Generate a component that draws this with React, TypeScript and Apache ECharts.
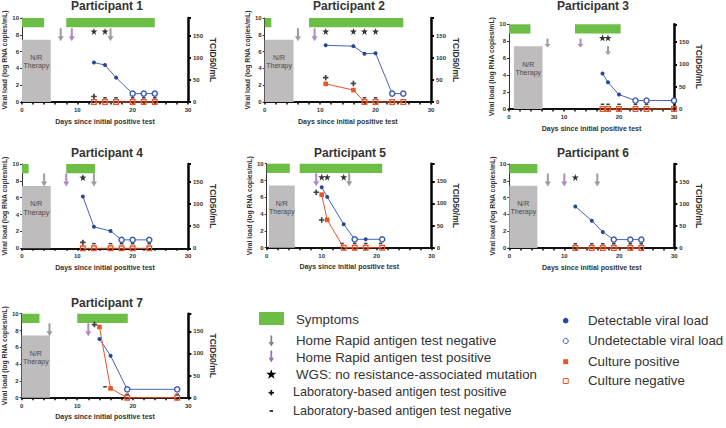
import React, { useEffect, useRef } from "react";
import * as echarts from "echarts";

const FONT = "'Liberation Sans', Arial, Helvetica, sans-serif";
const GREEN = "#6dbe46";
const THERAPY_GREY = "#bebcbc";
const ARROW_GREY = "#858585";
const ARROW_PURPLE = "#9d6db7";
const BLUE_LINE = "#4466bb";
const BLUE_DOT = "#2c4696";
const BLUE_RING = "#3a5aae";
const RED = "#e9542b";
const TEXT = "#333333";

// ---------- data ----------
// Participant 1
const p1Days = [13, 15, 17, 20, 22, 24];
const p1Viral = [4.7, 4.4, 2.9, 1, 1, 1];
const p1Detect = [1, 1, 1, 0, 0, 0];
const p1Culture = [0, 0, 0, 0, 0, 0];
const p1CulturePos = [0, 0, 0, 0, 0, 0];
const p1Symptoms = [[0, 4], [8, 24]];
const p1Therapy = [0, 5.2];
const p1RapidNeg = [[7, 8.0], [16, 8.0]];
const p1RapidPos = [[9, 8.0]];
const p1Wgs = [13, 15];
const p1LabPos = [[13, 0.65]];
const p1LabNeg = [[15, 0.5], [17, 0.5], [20, 0.5], [22, 0.5], [24, 0.5]];

// Participant 2
const p2Days = [11, 16, 18, 20, 23, 25];
const p2Viral = [6.75, 6.65, 5.75, 5.8, 1, 1];
const p2Detect = [1, 1, 1, 1, 0, 0];
const p2Culture = [41, 27, 0, 0, 0, 0];
const p2CulturePos = [1, 1, 0, 0, 0, 0];
const p2Symptoms = [[0, 1.2], [8, 25]];
const p2Therapy = [0, 5.2];
const p2RapidNeg = [[6, 8.0]];
const p2RapidPos = [[9, 8.0]];
const p2Wgs = [11, 16, 18, 20];
const p2LabPos = [[11, 2.9], [16, 2.2]];
const p2LabNeg = [[18, 0.5], [20, 0.5]];

// Participant 3
const p3Days = [17, 18, 20, 23, 25, 30];
const p3Viral = [4.2, 3.15, 1.7, 1, 1, 1];
const p3Detect = [1, 1, 1, 0, 0, 0];
const p3Culture = [0, 0, 0, 0, 0, 0];
const p3CulturePos = [0, 0, 0, 0, 0, 0];
const p3Symptoms = [[0, 3.9], [12, 20.3]];
const p3Therapy = [0.9, 6.1];
const p3RapidNeg = [[7, 7.8], [18, 6.9]];
const p3RapidPos = [[13, 7.8]];
const p3Wgs = [17, 18];
const p3LabPos: number[][] = [];
const p3LabNeg = [[17, 0.55], [18, 0.55], [20, 0.55], [23, 0.55], [25, 0.55]];

// Participant 4
const p4Days = [11, 13, 16, 18, 20, 23];
const p4Viral = [6.15, 2.55, 2.05, 1, 1, 1];
const p4Detect = [1, 1, 1, 0, 0, 0];
const p4Culture = [0, 0, 0, 0, 0, 0];
const p4CulturePos = [0, 0, 0, 0, 0, 0];
const p4Symptoms = [[0, 1.2], [8, 13.2]];
const p4Therapy = [0, 5.2];
const p4RapidNeg = [[4, 8.1], [13, 8.1]];
const p4RapidPos = [[8, 8.1]];
const p4Wgs = [11];
const p4LabPos = [[11, 0.7]];
const p4LabNeg = [[13, 0.55], [16, 0.55], [18, 0.55], [20, 0.55], [23, 0.55]];

// Participant 5
const p5Days = [10, 11, 14, 16, 18, 21];
const p5Viral = [7.2, 6.05, 2.8, 1, 1, 1];
const p5Detect = [1, 1, 1, 0, 1, 0];
const p5Culture = [120, 63, 0, 0, 0, 0];
const p5CulturePos = [1, 1, 0, 0, 0, 0];
const p5Symptoms = [[0, 4.2], [6, 21]];
const p5Therapy = [0.4, 5.1];
const p5RapidNeg = [[15, 8.1]];
const p5RapidPos = [[9, 8.1]];
const p5Wgs = [10, 11, 14];
const p5LabPos = [[9, 6.6], [10, 3.3]];
const p5LabNeg = [[13.7, 0.5], [16, 0.5], [18, 0.5], [20.7, 0.5]];

// Participant 6
const p6Days = [12, 15, 17, 19, 22, 24];
const p6Viral = [4.95, 3.25, 1.9, 1, 1, 1];
const p6Detect = [1, 1, 1, 0, 0, 0];
const p6Culture = [0, 0, 0, 0, 0, 0];
const p6CulturePos = [0, 0, 0, 0, 0, 0];
const p6Symptoms = [[0, 5.1]];
const p6Therapy = [0, 5.1];
const p6RapidNeg = [[7, 8.1], [16, 8.1]];
const p6RapidPos = [[10, 8.1]];
const p6Wgs = [12];
const p6LabPos: number[][] = [];
const p6LabNeg = [[12, 0.5], [15, 0.5], [17, 0.5], [19, 0.5], [22, 0.5], [24, 0.5]];

// Participant 7
const p7Days = [14, 16, 19, 28];
const p7Viral = [7.0, 5.0, 1, 1];
const p7Detect = [1, 1, 0, 0];
const p7Culture = [160, 21, 0, 0];
const p7CulturePos = [1, 1, 0, 0];
const p7Symptoms = [[0, 3.2], [10, 19.1]];
const p7Therapy = [0, 5.1];
const p7RapidNeg = [[5, 8.1]];
const p7RapidPos = [[12, 8.1]];
const p7Wgs: number[] = [];
const p7LabPos = [[13.1, 8.7]];
const p7LabNeg = [[15, 1.3], [19, 0.4], [28, 0.4]];

const participants = [
  { name: "Participant 1", days: p1Days, viral: p1Viral, detect: p1Detect, culture: p1Culture, culturePos: p1CulturePos, symptoms: p1Symptoms, therapy: p1Therapy, rapidNeg: p1RapidNeg, rapidPos: p1RapidPos, wgs: p1Wgs, labPos: p1LabPos, labNeg: p1LabNeg },
  { name: "Participant 2", days: p2Days, viral: p2Viral, detect: p2Detect, culture: p2Culture, culturePos: p2CulturePos, symptoms: p2Symptoms, therapy: p2Therapy, rapidNeg: p2RapidNeg, rapidPos: p2RapidPos, wgs: p2Wgs, labPos: p2LabPos, labNeg: p2LabNeg },
  { name: "Participant 3", days: p3Days, viral: p3Viral, detect: p3Detect, culture: p3Culture, culturePos: p3CulturePos, symptoms: p3Symptoms, therapy: p3Therapy, rapidNeg: p3RapidNeg, rapidPos: p3RapidPos, wgs: p3Wgs, labPos: p3LabPos, labNeg: p3LabNeg },
  { name: "Participant 4", days: p4Days, viral: p4Viral, detect: p4Detect, culture: p4Culture, culturePos: p4CulturePos, symptoms: p4Symptoms, therapy: p4Therapy, rapidNeg: p4RapidNeg, rapidPos: p4RapidPos, wgs: p4Wgs, labPos: p4LabPos, labNeg: p4LabNeg },
  { name: "Participant 5", days: p5Days, viral: p5Viral, detect: p5Detect, culture: p5Culture, culturePos: p5CulturePos, symptoms: p5Symptoms, therapy: p5Therapy, rapidNeg: p5RapidNeg, rapidPos: p5RapidPos, wgs: p5Wgs, labPos: p5LabPos, labNeg: p5LabNeg },
  { name: "Participant 6", days: p6Days, viral: p6Viral, detect: p6Detect, culture: p6Culture, culturePos: p6CulturePos, symptoms: p6Symptoms, therapy: p6Therapy, rapidNeg: p6RapidNeg, rapidPos: p6RapidPos, wgs: p6Wgs, labPos: p6LabPos, labNeg: p6LabNeg },
  { name: "Participant 7", days: p7Days, viral: p7Viral, detect: p7Detect, culture: p7Culture, culturePos: p7CulturePos, symptoms: p7Symptoms, therapy: p7Therapy, rapidNeg: p7RapidNeg, rapidPos: p7RapidPos, wgs: p7Wgs, labPos: p7LabPos, labNeg: p7LabNeg },
];

const xTicks = [0, 10, 20, 30];
const rightTicks = [0, 50, 100, 150];

// ---------- layout (positions / styles) ----------
const layouts = [
  { left: 22, top: 18, width: 166, height: 84, tx: 107, ty: 6, ah: 13 },
  { left: 264.7, top: 18, width: 166.3, height: 84, tx: 349, ty: 6, ah: 13 },
  { left: 509, top: 24.3, width: 165, height: 84.7, tx: 593, ty: 6, ah: 9 },
  { left: 22, top: 164, width: 166, height: 84.3, tx: 107, ty: 152.5, ah: 13 },
  { left: 266.7, top: 163.7, width: 165, height: 84, tx: 350, ty: 152.5, ah: 13 },
  { left: 509.3, top: 164, width: 165, height: 84, tx: 593, ty: 152.5, ah: 13 },
  { left: 21.7, top: 313.7, width: 166.6, height: 84, tx: 107, ty: 302.5, ah: 13 },
];

const SYM_BOTTOM = 8.9;
const THERAPY_TOP = 7.4;
const STAR_Y = 8.4;
const THERAPY_TEXT_Y = 4.8;

const ARROW = "path://M2,0 L4,0 L4,8 L6,8 L3,13 L0,8 L2,8 Z";
const STAR = "path://M50,0 L61.76,33.82 L97.55,34.55 L69.02,56.18 L79.39,90.45 L50,70 L20.61,90.45 L30.98,56.18 L2.45,34.55 L38.24,33.82 Z";
const PLUS = "path://M3.5,0 L6.5,0 L6.5,3.5 L10,3.5 L10,6.5 L6.5,6.5 L6.5,10 L3.5,10 L3.5,6.5 L0,6.5 L0,3.5 L3.5,3.5 Z";

function starPoints(cx: number, cy: number, r: number) {
  const pts: number[][] = [];
  for (let k = 0; k < 10; k++) {
    const ang = -Math.PI / 2 + (k * Math.PI) / 5;
    const rr = k % 2 === 0 ? r : r * 0.4;
    pts.push([cx + rr * Math.cos(ang), cy + rr * Math.sin(ang)]);
  }
  return pts;
}

function arrowPoints(cx: number, y0: number, h: number, w: number) {
  const sh = w * 0.16;
  const headTop = y0 + h * 0.6;
  return [
    [cx - sh, y0], [cx + sh, y0], [cx + sh, headTop], [cx + w / 2, headTop],
    [cx, y0 + h], [cx - w / 2, headTop], [cx - sh, headTop],
  ];
}

function txt(text: string, x: number, y: number, size: number, opts: any = {}) {
  return {
    type: "text",
    x, y,
    silent: true,
    style: {
      text,
      fill: opts.fill || TEXT,
      fontSize: size,
      fontWeight: opts.weight || "normal",
      fontFamily: FONT,
      align: opts.align || "left",
      verticalAlign: "middle",
      textAlign: opts.align || "left",
      textVerticalAlign: "middle",
    },
  };
}

function renderRect(params: any, api: any) {
  const x1 = api.value(0), x2 = api.value(1), y1 = api.value(2), y2 = api.value(3), kind = api.value(4);
  const a = api.coord([x1, y2]);
  const b = api.coord([x2, y1]);
  const rect = {
    type: "rect",
    shape: { x: a[0], y: a[1], width: b[0] - a[0], height: b[1] - a[1] },
    style: { fill: kind === 0 ? GREEN : THERAPY_GREY },
  };
  if (kind === 0) return rect;
  const ty = api.coord([x1, THERAPY_TEXT_Y])[1];
  return {
    type: "group",
    children: [
      rect,
      {
        type: "text",
        x: (a[0] + b[0]) / 2,
        y: ty,
        style: {
          text: "N/R\nTherapy",
          fill: "#4a4a4a",
          fontSize: 7,
          fontFamily: FONT,
          align: "center",
          verticalAlign: "middle",
          textAlign: "center",
          textVerticalAlign: "middle",
          lineHeight: 8.5,
        },
      },
    ],
  };
}

function buildOption() {
  const grid: any[] = [];
  const xAxis: any[] = [];
  const yAxis: any[] = [];
  const series: any[] = [];
  const graphic: any[] = [];

  participants.forEach((p, i) => {
    const l = layouts[i];
    grid.push({ left: l.left, top: l.top, width: l.width, height: l.height });
    xAxis.push({
      gridIndex: i, type: "value", min: 0, max: 30, interval: 2,
      name: "Days since initial positive test", nameLocation: "middle", nameGap: 15.5,
      nameTextStyle: { fontSize: 7, fontWeight: "bold", color: TEXT, fontFamily: FONT },
      axisLine: { show: true, onZero: false, lineStyle: { color: "#111", width: 2 } },
      axisTick: { show: true, length: 2.5, lineStyle: { color: "#111", width: 1.5 } },
      axisLabel: {
        fontSize: 6, fontWeight: "bold", color: TEXT, fontFamily: FONT, margin: 5,
        formatter: (v: number) => (xTicks.indexOf(v) >= 0 ? String(v) : ""),
      },
      splitLine: { show: false },
    });
    yAxis.push({
      gridIndex: i, type: "value", min: 0, max: 10, interval: 2, position: "left",
      name: "Viral load (log RNA copies/mL)", nameLocation: "middle", nameGap: 13.5, nameRotate: 90,
      nameTextStyle: { fontSize: 6.8, fontWeight: "bold", color: TEXT, fontFamily: FONT },
      axisLine: { show: true, lineStyle: { color: "#333", width: 1 } },
      axisTick: { show: true, length: 2, lineStyle: { color: "#333", width: 1 } },
      axisLabel: { fontSize: 6, fontWeight: "bold", color: TEXT, fontFamily: FONT, margin: 3 },
      splitLine: { show: false },
    });
    yAxis.push({
      gridIndex: i, type: "value", min: 0, max: 190, interval: 50, position: "right",
      name: "TCID50/mL", nameLocation: "middle", nameGap: 20, nameRotate: -90,
      nameTextStyle: { fontSize: 8.5, fontWeight: "bold", color: TEXT, fontFamily: FONT },
      axisLine: { show: true, lineStyle: { color: "#000", width: 2.5 } },
      axisTick: { show: true, length: 3, lineStyle: { color: "#000", width: 2 } },
      axisLabel: {
        fontSize: 6, fontWeight: "bold", color: TEXT, fontFamily: FONT, margin: 5,
        formatter: (v: number) => (rightTicks.indexOf(v) >= 0 ? String(v) : ""),
      },
      splitLine: { show: false },
    });

    const xi = i, yl = 2 * i, yr = 2 * i + 1;
    series.push({
      type: "custom", xAxisIndex: xi, yAxisIndex: yl, clip: false, silent: true, z: 1,
      encode: { x: [0, 1], y: [2, 3] },
      data: [
        ...p.symptoms.map((s) => [s[0], s[1], SYM_BOTTOM, 10, 0]),
        [p.therapy[0], p.therapy[1], 0, THERAPY_TOP, 1],
      ],
      renderItem: renderRect,
    });
    series.push({
      type: "scatter", xAxisIndex: xi, yAxisIndex: yl, clip: false, silent: true, z: 3,
      symbol: ARROW, symbolSize: [6, l.ah], itemStyle: { color: ARROW_GREY },
      data: p.rapidNeg,
    });
    series.push({
      type: "scatter", xAxisIndex: xi, yAxisIndex: yl, clip: false, silent: true, z: 3,
      symbol: ARROW, symbolSize: [6, l.ah], itemStyle: { color: ARROW_PURPLE },
      data: p.rapidPos,
    });
    series.push({
      type: "scatter", xAxisIndex: xi, yAxisIndex: yl, clip: false, silent: true, z: 3,
      symbol: STAR, symbolSize: 7, itemStyle: { color: "#000" },
      data: p.wgs.map((d) => [d, STAR_Y]),
    });
    series.push({
      type: "scatter", xAxisIndex: xi, yAxisIndex: yl, clip: false, silent: true, z: 3,
      symbol: PLUS, symbolSize: 5.5, itemStyle: { color: "#111" },
      data: p.labPos,
    });
    series.push({
      type: "scatter", xAxisIndex: xi, yAxisIndex: yl, clip: false, silent: true, z: 3,
      symbol: "rect", symbolSize: [3.6, 1.6], itemStyle: { color: "#111" },
      data: p.labNeg,
    });
    series.push({
      type: "line", xAxisIndex: xi, yAxisIndex: yl, clip: false, silent: true, z: 4,
      symbol: "circle", showSymbol: true,
      lineStyle: { color: BLUE_LINE, width: 1 },
      itemStyle: { color: BLUE_DOT },
      data: p.days.map((d, j) => ({
        value: [d, p.viral[j]],
        symbolSize: p.detect[j] ? 4 : 5.2,
        itemStyle: p.detect[j]
          ? { color: BLUE_DOT }
          : { color: "#ffffff", borderColor: BLUE_RING, borderWidth: 1.4 },
      })),
    });
    series.push({
      type: "line", xAxisIndex: xi, yAxisIndex: yr, clip: false, silent: true, z: 5,
      symbol: "rect", showSymbol: true,
      lineStyle: { color: RED, width: 1 },
      itemStyle: { color: RED },
      data: p.days.map((d, j) => ({
        value: [d, p.culture[j]],
        symbolSize: 4.6,
        itemStyle: p.culturePos[j]
          ? { color: RED }
          : { color: "rgba(255,255,255,0)", borderColor: RED, borderWidth: 1.3 },
      })),
    });

    graphic.push(txt(p.name, l.tx, l.ty, 12, { weight: "bold", align: "center" }));
  });

  // ---------- legend ----------
  graphic.push({ type: "rect", silent: true, shape: { x: 259, y: 312, width: 25, height: 13 }, style: { fill: GREEN } });
  graphic.push(txt("Symptoms", 296, 319, 13.3));
  graphic.push({ type: "polygon", silent: true, shape: { points: arrowPoints(271.3, 335.5, 11, 5.5) }, style: { fill: ARROW_GREY } });
  graphic.push(txt("Home Rapid antigen test negative", 296, 340.5, 13.3));
  graphic.push({ type: "polygon", silent: true, shape: { points: arrowPoints(271.3, 350.5, 12, 5.5) }, style: { fill: ARROW_PURPLE } });
  graphic.push(txt("Home Rapid antigen test positive", 296, 357, 13.3));
  graphic.push({ type: "polygon", silent: true, shape: { points: starPoints(271.3, 374.5, 5.3) }, style: { fill: "#000" } });
  graphic.push(txt("WGS: no resistance-associated mutation", 296, 374, 13.3));
  graphic.push({ type: "rect", silent: true, shape: { x: 268.6, y: 391.9, width: 5.4, height: 1.7 }, style: { fill: "#111" } });
  graphic.push({ type: "rect", silent: true, shape: { x: 270.45, y: 390.0, width: 1.7, height: 5.4 }, style: { fill: "#111" } });
  graphic.push(txt("Laboratory-based antigen test positive", 293, 391.5, 12.6));
  graphic.push({ type: "rect", silent: true, shape: { x: 269.6, y: 410.2, width: 3.4, height: 1.6 }, style: { fill: "#111" } });
  graphic.push(txt("Laboratory-based antigen test negative", 293, 410.5, 12.6));

  graphic.push({ type: "circle", silent: true, shape: { cx: 565.7, cy: 320.7, r: 2.8 }, style: { fill: BLUE_DOT } });
  graphic.push(txt("Detectable viral load", 588, 320, 13.3));
  graphic.push({ type: "circle", silent: true, shape: { cx: 565.7, cy: 341, r: 2.6 }, style: { fill: "#fff", stroke: BLUE_RING, lineWidth: 1 } });
  graphic.push(txt("Undetectable viral load", 588, 340.5, 13.3));
  graphic.push({ type: "rect", silent: true, shape: { x: 563.2, y: 359.2, width: 5, height: 5 }, style: { fill: RED } });
  graphic.push(txt("Culture positive", 588, 361, 13.3));
  graphic.push({ type: "rect", silent: true, shape: { x: 563.2, y: 378.5, width: 5, height: 5 }, style: { fill: "#fff", stroke: RED, lineWidth: 1 } });
  graphic.push(txt("Culture negative", 588, 380.5, 13.3));

  return {
    animation: false,
    backgroundColor: "#ffffff",
    textStyle: { fontFamily: FONT },
    grid, xAxis, yAxis, series, graphic,
  };
}

export default function App() {
  const ref = useRef<HTMLDivElement>(null);
  useEffect(() => {
    const chart = echarts.init(ref.current as HTMLDivElement, null, { renderer: "svg" });
    chart.setOption(buildOption() as any);
    return () => chart.dispose();
  }, []);
  return (
    <div
      ref={ref}
      style={{ position: "fixed", left: 0, top: 0, width: 726, height: 428, background: "#fff" }}
    />
  );
}
